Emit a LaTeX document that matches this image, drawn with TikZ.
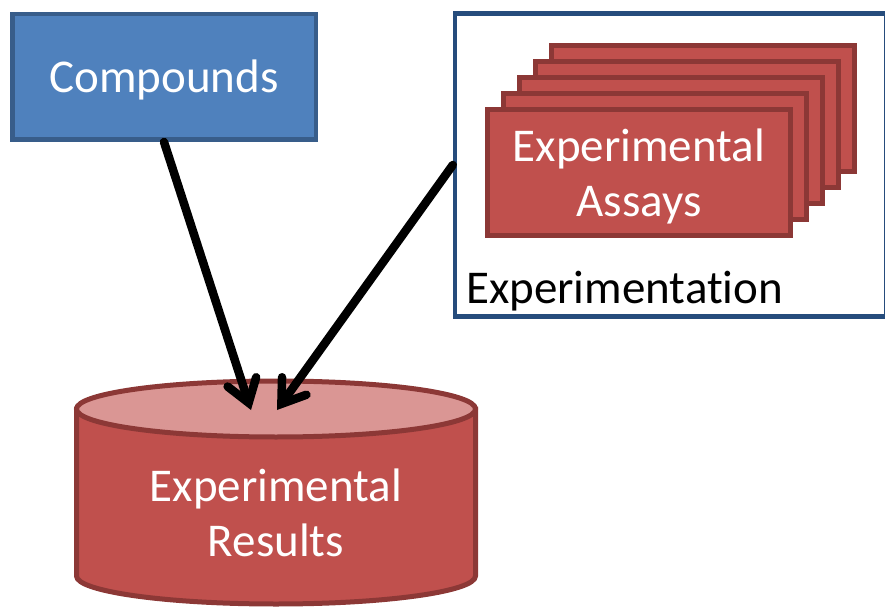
\documentclass[tikz,border=0pt]{standalone}
\usepackage{fontspec}
\setmainfont{Carlito}[Ligatures=NoCommon]
\usetikzlibrary{positioning,arrows.meta}
\definecolor{cpdblue}{RGB}{79,129,189}
\definecolor{cpdline}{RGB}{56,93,138}
\definecolor{expred}{RGB}{192,80,77}
\definecolor{expline}{RGB}{140,56,54}
\definecolor{dbtop}{RGB}{218,150,148}
\definecolor{frameblue}{RGB}{38,76,124}
\tikzset{%
  big/.style={font=\fontsize{47}{55}\selectfont},
  cpd/.style={big,fill=cpdblue,draw=cpdline,line width=4.5pt,text=white,
    minimum width=303.5pt,minimum height=125.5pt},
  assay/.style={fill=expred,draw=expline,line width=5pt,
    minimum width=303pt,minimum height=126pt},
  frame/.style={draw=frameblue,line width=4.5pt,minimum width=431pt,minimum height=303pt},
  db/.style={fill=expred,draw=expline,line width=5pt},
  feed/.style={line width=8.5pt,line cap=round,
    -{Straight Barb[length=22pt,width=30pt,line cap=round,line join=miter]}}
}

\begin{document}
\begin{tikzpicture}[x=1pt,y=-1pt]
  \useasboundingbox (0,0) rectangle (885,609);

  \node[cpd,text depth=0pt] (cpd) at (164,77) {};
  \node[big,text=white] (cpdtext) at (164,80) {Compounds};

  % experimentation frame with the stack of assays
  \node[frame] (expt) at (670.5,165) {};
  \foreach \k in {4,3,2,1}
    \node[assay] (card\k) at (639+16*\k,172.5-16*\k) {};
  \node[assay] (assays) at (639,172.5) {};
  \node[big,text=white,align=center] (assaytext) at (639,176.5) {Experimental\\Assays};
  \node[big,anchor=base west,inner sep=0pt] (explabel) at (466,303) {Experimentation};

  % results store
  \path[db] (76.5,409) -- (76.5,576) arc (180:0:199.5 and 28) -- (475.5,409) -- cycle;
  \path[db,fill=dbtop] (276,409) ellipse (199.5 and 28);
  \node[big,text=white,align=center] (results) at (276,513) {Experimental\\Results};

  \coordinate (in1) at (251,410);
  \coordinate (in2) at (277,410);
  \draw[feed] (cpd.south) -- (in1);
  \draw[feed] (expt.west) -- (in2);
\end{tikzpicture}
\end{document}
